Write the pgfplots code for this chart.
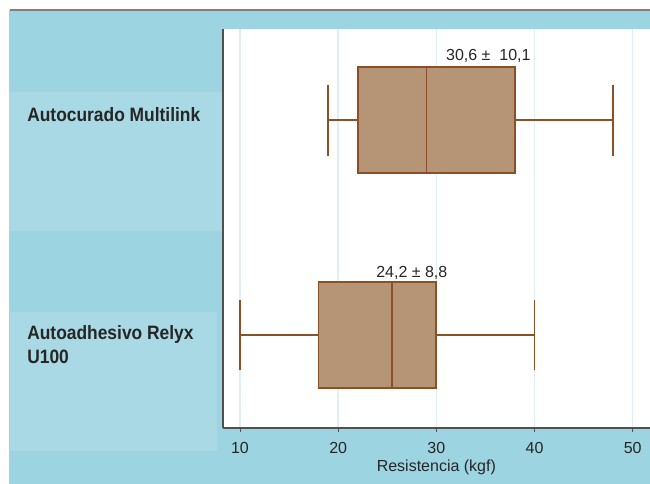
\documentclass[border=0pt]{standalone}
\usepackage{pgfplots}
\pgfplotsset{compat=1.18}
\usepgfplotslibrary{statistics}
\usepackage{fontspec}
\setmainfont{Liberation Sans}
\newfontfamily\narrowbold{Liberation Sans Bold}[FakeStretch=0.9]

\definecolor{bgdark}{RGB}{157,212,226}
\definecolor{bglight}{RGB}{168,217,228}
\definecolor{boxfill}{RGB}{181,149,118}
\definecolor{boxedge}{RGB}{140,80,38}
\definecolor{gridblue}{RGB}{222,240,245}
\definecolor{axgray}{RGB}{80,80,80}

\begin{document}
\begin{tikzpicture}[x=0.75pt,y=0.75pt]
  % page and background panels (pixel units of the reference)
  \fill[white] (0,0) rectangle (650,484);
  \useasboundingbox (0,0) rectangle (650,484);
  \fill[bgdark] (9,0) rectangle (650,474);
  \draw[gray, line width=1.2pt] (10,474) -- (650,474);
  \fill[bglight] (9,253) rectangle (222,392);
  \fill[bglight] (10,33) rectangle (217,172);

  \node[anchor=west, inner sep=0pt, font=\narrowbold\fontsize{14.5}{16}\selectfont, text=black!85]
    at (27,369) {Autocurado Multilink};
  \node[anchor=west, inner sep=0pt, align=left, font=\narrowbold\fontsize{14.5}{18}\selectfont, text=black!85]
    at (27,139) {Autoadhesivo Relyx\\U100};

  \begin{axis}[
    at={(167.25pt,42pt)}, anchor=south west,
    scale only axis, width=320pt, height=299pt,
    xmin=8.27, xmax=51.73, ymin=0.567, ymax=2.423,
    axis background/.style={fill=white},
    axis x line*=bottom, axis y line*=left,
    axis line style={axgray, line width=0.9pt},
    xtick={10,20,30,40,50}, ytick=\empty,
    tick align=outside, major tick length=3pt,
    tick style={axgray, line width=0.6pt},
    xmajorgrids, major grid style={gridblue, line width=1.2pt},
    tick label style={font=\fontsize{12}{13}\selectfont, text=black!85, yshift=-4pt},
    /pgf/number format/assume math mode=true,
    xlabel={Resistencia (kgf)},
    xlabel style={font=\fontsize{12}{13}\selectfont, text=black!85, yshift=2pt},
    clip=false,
  ]
    \addplot+[boxplot prepared={lower whisker=19, lower quartile=22,
        median=29, upper quartile=38, upper whisker=48,
        draw position=2, box extend=0.493, whisker extend=0.33},
      draw=boxedge, fill=boxfill, solid, line width=1.4pt, mark=none]
      coordinates {};
    \addplot+[boxplot prepared={lower whisker=10, lower quartile=18,
        median=25.5, upper quartile=30, upper whisker=40,
        draw position=1, box extend=0.493, whisker extend=0.33},
      draw=boxedge, fill=boxfill, solid, line width=1.4pt, mark=none]
      coordinates {};
    \node[font=\fontsize{12}{13}\selectfont, text=black!85]
      at (axis cs:35.3,2.30) {30,6 ±\ \ 10,1};
    \node[font=\fontsize{12}{13}\selectfont, text=black!85]
      at (axis cs:27.5,1.29) {24,2 ± 8,8};
  \end{axis}
\end{tikzpicture}
\end{document}
